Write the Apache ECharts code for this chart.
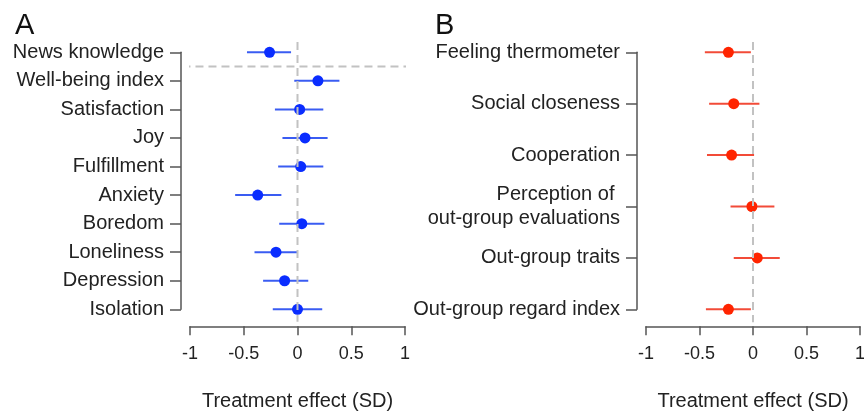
<!DOCTYPE html>
<html>
<head>
<meta charset="utf-8">
<script src="https://cdn.jsdelivr.net/npm/echarts@6.0.0/dist/echarts.min.js"></script>
<style>
  html, body { margin: 0; padding: 0; background: #fff; }
  #container { width: 864px; height: 412px; }
</style>
</head>
<body>
<div id="container"></div>
<script>
// Panel A: well-being outcomes
var labelsA = ['News knowledge', 'Well-being index', 'Satisfaction', 'Joy', 'Fulfillment',
  'Anxiety', 'Boredom', 'Loneliness', 'Depression', 'Isolation'];
var estA = [-0.26, 0.19, 0.02, 0.07, 0.03, -0.37, 0.04, -0.20, -0.12, 0.00];
var lowA = [-0.47, -0.03, -0.21, -0.14, -0.18, -0.58, -0.17, -0.40, -0.32, -0.23];
var highA = [-0.06, 0.39, 0.24, 0.28, 0.24, -0.15, 0.25, 0.00, 0.10, 0.23];

// Panel B: polarization outcomes
var labelsB = ['Feeling thermometer', 'Social closeness', 'Cooperation',
  'Perception of \nout-group evaluations', 'Out-group traits', 'Out-group regard index'];
var estB = [-0.23, -0.18, -0.20, -0.01, 0.04, -0.23];
var lowB = [-0.45, -0.41, -0.43, -0.21, -0.18, -0.44];
var highB = [-0.02, 0.06, 0.01, 0.20, 0.25, -0.02];

var xTicks = [-1, -0.5, 0, 0.5, 1];

var FONT = 'Liberation Sans';
var TEXT = '#222';
var AXIS = '#555';

var dom = document.getElementById('container');
var myChart = echarts.init(dom, null, { renderer: 'canvas' });

function rows(est) {
  return est.map(function (v, i) { return [v, i]; });
}
function bars(low, high) {
  return low.map(function (v, i) { return [v, high[i], i]; });
}

function xAxisFor(g) {
  return {
    gridIndex: g, type: 'value',
    min: xTicks[0], max: xTicks[xTicks.length - 1], interval: 0.5,
    offset: 17,
    axisLine: { show: true, onZero: false, lineStyle: { color: AXIS, width: 1.5 } },
    axisTick: { show: true, length: 9, lineStyle: { color: AXIS, width: 1.5 } },
    axisLabel: { margin: 19, fontSize: 18, color: TEXT, fontFamily: FONT,
      showMinLabel: true, showMaxLabel: true, hideOverlap: false },
    splitLine: { show: false },
    name: 'Treatment effect (SD)', nameLocation: 'middle', nameGap: 65,
    nameTextStyle: { fontSize: 20, color: TEXT, fontFamily: FONT }
  };
}

function yAxisFor(g, labels) {
  return {
    gridIndex: g, type: 'value', min: 0, max: labels.length - 1, interval: 1,
    inverse: true, offset: 9,
    axisLine: { show: true, onZero: false, lineStyle: { color: AXIS, width: 1.5 } },
    axisTick: { show: true, length: 11, lineStyle: { color: AXIS, width: 1.5 } },
    axisLabel: { margin: 17, fontSize: 20, color: TEXT, fontFamily: FONT, lineHeight: 24,
      align: 'right', hideOverlap: false, padding: [4, 0, 0, 0],
      formatter: function (v) { return labels[v] || ''; } },
    splitLine: { show: false }
  };
}

function errorBars(g, low, high, color) {
  return {
    type: 'custom', xAxisIndex: g, yAxisIndex: g,
    data: bars(low, high),
    encode: { x: [0, 1], y: 2 },
    renderItem: function (params, api) {
      var a = api.coord([api.value(0), api.value(2)]);
      var b = api.coord([api.value(1), api.value(2)]);
      return {
        type: 'line',
        shape: { x1: a[0], y1: a[1], x2: b[0], y2: b[1] },
        style: { stroke: color, lineWidth: 2 }
      };
    },
    z: 2
  };
}

function points(g, est, color) {
  return {
    type: 'scatter', xAxisIndex: g, yAxisIndex: g,
    data: rows(est), symbolSize: 11,
    itemStyle: { color: color, opacity: 1 },
    z: 3
  };
}

function dashed(g, data) {
  return {
    type: 'line', xAxisIndex: g, yAxisIndex: g, data: data,
    clip: false, symbol: 'none', silent: true,
    lineStyle: { color: '#c2c2c2', width: 2, type: [8, 5] },
    z: 4
  };
}

option = {
  animation: false,
  backgroundColor: '#fff',
  title: [
    { text: 'A', left: 10, top: 6, textStyle: { fontSize: 29, fontWeight: 'normal', color: '#111', fontFamily: FONT } },
    { text: 'B', left: 430, top: 6, textStyle: { fontSize: 29, fontWeight: 'normal', color: '#111', fontFamily: FONT } }
  ],
  grid: [
    { left: 190, width: 215, top: 52.3, height: 257, containLabel: false, outerBoundsMode: 'none' },
    { left: 646, width: 214, top: 52.3, height: 257, containLabel: false, outerBoundsMode: 'none' }
  ],
  xAxis: [xAxisFor(0), xAxisFor(1)],
  yAxis: [yAxisFor(0, labelsA), yAxisFor(1, labelsB)],
  series: [
    errorBars(0, lowA, highA, '#3a5cf2'),
    points(0, estA, '#0a2dff'),
    dashed(0, [[0, -0.36], [0, 9.44]]),
    dashed(0, [[-1.07, 0.5], [1.1, 0.5]]),
    errorBars(1, lowB, highB, '#f24b38'),
    points(1, estB, '#ff2400'),
    dashed(1, [[0, -0.2], [0, 5.25]])
  ]
};

myChart.setOption(option);
window.addEventListener('resize', myChart.resize);
</script>
</body>
</html>
